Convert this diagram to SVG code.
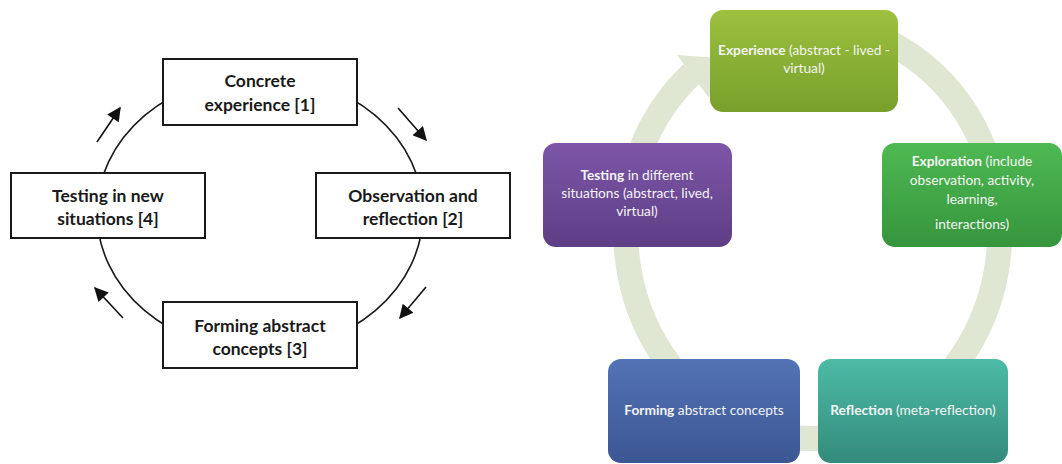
<svg xmlns="http://www.w3.org/2000/svg" width="1062" height="464" viewBox="0 0 1062 464">
<style>
.kbox{fill:#fff;stroke:#1a1a1a;stroke-width:2}
.kt{font-family:Lato,"Liberation Sans",sans-serif;font-weight:700;font-size:17.5px;fill:#1a1a1a;text-anchor:middle}
.arr{stroke:#111;stroke-width:1.6;fill:none;marker-end:url(#ah2)}
.nt{font-family:Lato,"Liberation Sans",sans-serif;font-size:13.7px;fill:#f4f4f4;text-anchor:middle}
.nt tspan.b{font-weight:700}
</style>
<defs>
<marker id="ah2" viewBox="0 0 10 10" refX="9" refY="5" markerWidth="17" markerHeight="14" markerUnits="userSpaceOnUse" orient="auto">
<path d="M0,0 L10,5 L0,10 z" fill="#111"/>
</marker>
<linearGradient id="gExp" x1="0" y1="0" x2="0" y2="1"><stop offset="0" stop-color="#9dc13f"/><stop offset="1" stop-color="#77a02b"/></linearGradient>
<linearGradient id="gExl" x1="0" y1="0" x2="0" y2="1"><stop offset="0" stop-color="#4eb952"/><stop offset="1" stop-color="#36953d"/></linearGradient>
<linearGradient id="gTst" x1="0" y1="0" x2="0" y2="1"><stop offset="0" stop-color="#7d56a8"/><stop offset="1" stop-color="#5e3e85"/></linearGradient>
<linearGradient id="gFrm" x1="0" y1="0" x2="0" y2="1"><stop offset="0" stop-color="#5373b5"/><stop offset="1" stop-color="#3c5693"/></linearGradient>
<linearGradient id="gRef" x1="0" y1="0" x2="0" y2="1"><stop offset="0" stop-color="#4cbba6"/><stop offset="1" stop-color="#348b7b"/></linearGradient>
</defs>
<rect width="1062" height="464" fill="#fff"/>

<g id="connectors-left">
<ellipse cx="260" cy="213" rx="163" ry="138" fill="none" stroke="#1a1a1a" stroke-width="1.6"/>
<line class="arr" x1="97" y1="142" x2="120" y2="108"/>
<line class="arr" x1="398" y1="108" x2="426" y2="140"/>
<line class="arr" x1="426" y1="287" x2="400" y2="318"/>
<line class="arr" x1="123" y1="318" x2="95" y2="288"/>
</g>

<g id="k1"><rect class="kbox" x="163" y="59" width="194" height="66"/>
<text class="kt" x="260" y="87">Concrete</text><text class="kt" x="260" y="111">experience [1]</text></g>
<g id="k2"><rect class="kbox" x="316" y="173" width="194" height="65"/>
<text class="kt" x="413" y="202">Observation and</text><text class="kt" x="413" y="225">reflection [2]</text></g>
<g id="k3"><rect class="kbox" x="163" y="302" width="194" height="66"/>
<text class="kt" x="260" y="332">Forming abstract</text><text class="kt" x="260" y="355">concepts [3]</text></g>
<g id="k4"><rect class="kbox" x="11" y="173" width="194" height="65"/>
<text class="kt" x="108" y="202">Testing in new</text><text class="kt" x="108" y="225">situations [4]</text></g>

<g id="connectors-right">
<path d="M 747.7 37.5 A 187 207 0 1 1 692 73.5" fill="none" stroke="#dfe6d1" stroke-width="25"/>
<polygon points="677,55 720,58 709,98" fill="#dfe6d1"/>
</g>

<g id="n-experience"><rect x="710" y="10" width="188" height="102" rx="13" fill="url(#gExp)"/>
<text class="nt" x="804" y="55"><tspan class="b">Experience</tspan> (abstract - lived -</text>
<text class="nt" x="804" y="73">virtual)</text></g>
<g id="n-exploration"><rect x="882" y="143" width="180" height="104" rx="13" fill="url(#gExl)"/>
<text class="nt" x="972" y="166"><tspan class="b">Exploration</tspan> (include</text>
<text class="nt" x="972" y="185">observation, activity,</text>
<text class="nt" x="972" y="204">learning,</text>
<text class="nt" x="972" y="229">interactions)</text></g>
<g id="n-reflection"><rect x="818" y="359" width="190" height="104" rx="13" fill="url(#gRef)"/>
<text class="nt" x="913" y="415"><tspan class="b">Reflection</tspan> (meta-reflection)</text></g>
<g id="n-forming"><rect x="608" y="359" width="192" height="104" rx="13" fill="url(#gFrm)"/>
<text class="nt" x="704" y="415"><tspan class="b">Forming</tspan> abstract concepts</text></g>
<g id="n-testing"><rect x="543" y="143" width="189" height="104" rx="13" fill="url(#gTst)"/>
<text class="nt" x="637" y="180"><tspan class="b">Testing</tspan> in different</text>
<text class="nt" x="637" y="198">situations (abstract, lived,</text>
<text class="nt" x="637" y="216">virtual)</text></g>
</svg>
